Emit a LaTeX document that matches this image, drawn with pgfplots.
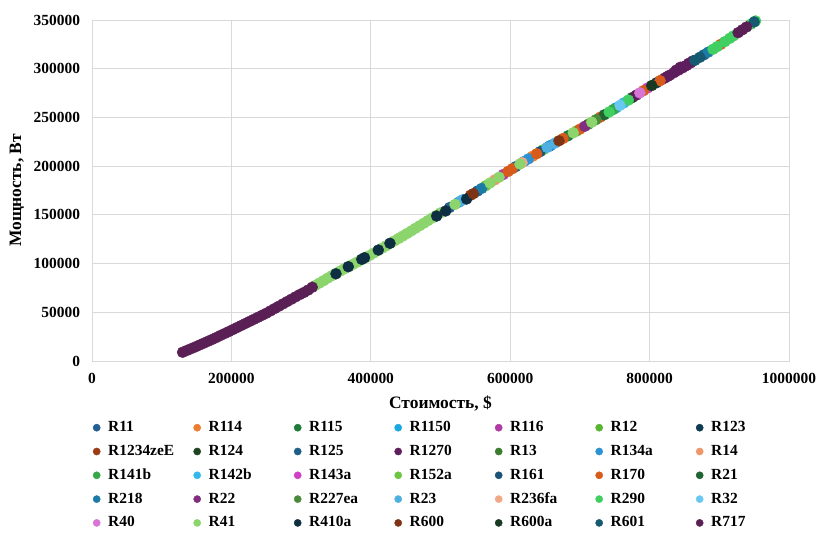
\documentclass[border=0pt]{standalone}
\usepackage{pgfplots}
\pgfplotsset{compat=1.18}
\usepackage{fontspec}
\setmainfont{Liberation Serif}
\definecolor{cR11}{HTML}{255E91}
\definecolor{cR114}{HTML}{ED7D31}
\definecolor{cR115}{HTML}{1E7B3A}
\definecolor{cR1150}{HTML}{1BA8E0}
\definecolor{cR116}{HTML}{B03BA5}
\definecolor{cR12}{HTML}{57B530}
\definecolor{cR123}{HTML}{0E3B51}
\definecolor{cR1234zeE}{HTML}{9C3C14}
\definecolor{cR124}{HTML}{1F4422}
\definecolor{cR125}{HTML}{1F5F87}
\definecolor{cR1270}{HTML}{5E1D5C}
\definecolor{cR13}{HTML}{3A7D2E}
\definecolor{cR134a}{HTML}{2C92D2}
\definecolor{cR14}{HTML}{F0976A}
\definecolor{cR141b}{HTML}{35A84A}
\definecolor{cR142b}{HTML}{33B8EC}
\definecolor{cR143a}{HTML}{D040C6}
\definecolor{cR152a}{HTML}{6CC644}
\definecolor{cR161}{HTML}{1C5378}
\definecolor{cR170}{HTML}{D75B1A}
\definecolor{cR21}{HTML}{1F6432}
\definecolor{cR218}{HTML}{1C7AA6}
\definecolor{cR22}{HTML}{822E7E}
\definecolor{cR227ea}{HTML}{4A8A3A}
\definecolor{cR23}{HTML}{4EB0E0}
\definecolor{cR236fa}{HTML}{F0A886}
\definecolor{cR290}{HTML}{40CF60}
\definecolor{cR32}{HTML}{69C8F0}
\definecolor{cR40}{HTML}{D775D6}
\definecolor{cR41}{HTML}{8CD46C}
\definecolor{cR410a}{HTML}{0E2E42}
\definecolor{cR600}{HTML}{7E3414}
\definecolor{cR600a}{HTML}{183A22}
\definecolor{cR601}{HTML}{155A70}
\definecolor{cR717}{HTML}{5A1F54}
\definecolor{gridc}{HTML}{D9D9D9}
\pgfplotsset{mk/.style={only marks, mark=*, mark size=5.5bp, color=#1,
  legend image code/.code={\draw[##1, mark size=3.6bp] plot coordinates {(0bp,0bp)};}}}
\begin{document}
\begin{tikzpicture}
\useasboundingbox (-92bp,-184bp) rectangle (736bp,361bp);
\begin{axis}[
  scale only axis, width=697bp, height=341bp,
  xmin=0, xmax=1000000, ymin=0, ymax=350000,
  xtick={0,200000,400000,600000,800000,1000000},
  ytick={0,50000,100000,150000,200000,250000,300000,350000},
  scaled ticks=false,
  /pgf/number format/.cd, fixed, set thousands separator={}, assume math mode=true,
  /pgfplots/.cd,
  grid=major, major grid style={gridc, line width=0.8bp},
  axis line style={gridc, line width=0.8bp},
  major tick length=0pt,
  ticklabel style={font=\bfseries\fontsize{15.5}{18}\selectfont},
  xticklabel style={yshift=-9bp},
  yticklabel style={xshift=-8.5bp},
  xlabel={Стоимость, \$}, ylabel={Мощность, Вт},
  every axis x label/.style={at={([yshift=-43bp]axis description cs:0.5,0)}, anchor=center,
    font=\bfseries\fontsize{17.5}{20}\selectfont},
  every axis y label/.style={at={([xshift=-75bp]axis description cs:0,0.5)}, anchor=center, rotate=90,
    font=\bfseries\fontsize{17.5}{20}\selectfont},
  legend columns=7,
  legend style={draw=none, fill=none, inner sep=0pt, outer sep=0pt,
    at={(0,0)}, anchor=north west, xshift=1.1bp, yshift=-57.7bp,
    font=\bfseries\fontsize{15.5}{18}\selectfont,
    nodes={text width=80bp, inner sep=2bp, text height=11bp, text depth=3bp, align=left},
    row sep=5.8bp,
    /tikz/every odd column/.append style={column sep=5.9bp},
    /tikz/every even column/.append style={column sep=3.4bp}},
]
\addplot[mk=cR11] coordinates {(513000,157500) (608000,199500)};
\addlegendentry{R11}
\addplot[mk=cR114] coordinates {(632000,210100) (818000,288900)};
\addlegendentry{R114}
\addplot[mk=cR115] coordinates {(683000,231200)};
\addlegendentry{R115}
\addplot[mk=cR1150] coordinates {(532000,165400) (752000,259900)};
\addlegendentry{R1150}
\addplot[mk=cR116] coordinates {(590000,191400)};
\addlegendentry{R116}
\addplot[mk=cR12] coordinates {(695000,236000)};
\addlegendentry{R12}
\addplot[mk=cR123] coordinates {(656000,220400) (810000,285600)};
\addlegendentry{R123}
\addplot[mk=cR1234zeE] coordinates {(543000,170100)};
\addlegendentry{R1234zeE}
\addplot[mk=cR124] coordinates {(775000,270300)};
\addlegendentry{R124}
\addplot[mk=cR125] coordinates {(553000,174400) (878000,314300)};
\addlegendentry{R125}
\addplot[mk=cR1270] coordinates {(781000,272900) (822000,290500) (826000,292200) (829000,293400) (835000,295900) (838000,298500) (841000,298400) (844000,301500) (847000,300800) (850000,302500) (853000,303300) (856000,305500) (859000,306000) (862000,308000)};
\addlegendentry{R1270}
\addplot[mk=cR13] coordinates {(712000,243000)};
\addlegendentry{R13}
\addplot[mk=cR134a] coordinates {(526000,162900) (620000,204800) (626000,207400) (658000,221200)};
\addlegendentry{R134a}
\addplot[mk=cR14] coordinates {(578000,185900)};
\addlegendentry{R14}
\addplot[mk=cR141b] coordinates {(748000,258200)};
\addlegendentry{R141b}
\addplot[mk=cR142b] coordinates {(763000,264900)};
\addlegendentry{R142b}
\addplot[mk=cR143a] coordinates {(797000,280200)};
\addlegendentry{R143a}
\addplot[mk=cR152a] coordinates {(565000,179900) (647500,216900)};
\addlegendentry{R152a}
\addplot[mk=cR161] coordinates {(643000,214900)};
\addlegendentry{R161}
\addplot[mk=cR170] coordinates {(597000,194600) (603000,197300) (638000,212700) (676000,228400) (700000,238000) (729000,250200) (791000,277400) (815000,287700) (902000,325000)};
\addlegendentry{R170}
\addplot[mk=cR21] coordinates {(735000,252700)};
\addlegendentry{R21}
\addplot[mk=cR218] coordinates {(559000,177100) (884000,317000)};
\addlegendentry{R218}
\addplot[mk=cR22] coordinates {(707000,240900)};
\addlegendentry{R22}
\addplot[mk=cR227ea] coordinates {(723000,247700)};
\addlegendentry{R227ea}
\addplot[mk=cR23] coordinates {(530000,164600) (653000,219200) (664000,223600)};
\addlegendentry{R23}
\addplot[mk=cR236fa] coordinates {(617000,203500)};
\addlegendentry{R236fa}
\addplot[mk=cR290] coordinates {(742000,255600) (769500,267800) (891000,320000) (897000,322700) (908000,327800) (915000,331200) (920000,333600) (945000,345600) (952000,349000)};
\addlegendentry{R290}
\addplot[mk=cR32] coordinates {(757500,262400)};
\addlegendentry{R32}
\addplot[mk=cR40] coordinates {(786000,275200)};
\addlegendentry{R40}
\addplot[mk=cR41] coordinates {(320000,77400) (326000,79900) (332000,82400) (338000,85000) (344000,87500) (350000,90000) (356000,92300) (362000,94600) (368000,96800) (374000,99100) (380000,101400) (386000,103700) (392000,106000) (398000,108200) (404000,110700) (410000,113200) (416000,115700) (422000,118200) (428000,120800) (434000,123300) (440000,125800) (446000,128300) (452000,130900) (458000,133500) (464000,136200) (470000,138800) (476000,141400) (482000,144100) (488000,146700) (494000,149400) (500000,152000) (520800,160700) (571000,182700) (584000,188600) (614000,202200) (690500,234200) (717000,245100)};
\addlegendentry{R41}
\addplot[mk=cR410a] coordinates {(350000,89500) (367700,96800) (387000,104400) (391000,106000) (410800,113900) (427500,120800) (494500,148800) (507400,154000) (537500,166300)};
\addlegendentry{R410a}
\addplot[mk=cR600] coordinates {(547000,171700) (670000,226000)};
\addlegendentry{R600}
\addplot[mk=cR600a] coordinates {(803000,282700)};
\addlegendentry{R600a}
\addplot[mk=cR601] coordinates {(865000,308600) (872000,311700) (950000,348000)};
\addlegendentry{R601}
\addplot[mk=cR717] coordinates {(130000,9000) (136000,10800) (142000,12600) (148000,14400) (154000,16300) (160000,18200) (166000,20100) (172000,22000) (178000,24000) (184000,26100) (190000,28100) (196000,30100) (202000,32200) (208000,34300) (214000,36400) (220000,38500) (226000,40600) (232000,42700) (238000,44800) (244000,46900) (250000,49000) (256000,51400) (262000,53800) (268000,56200) (274000,58600) (280000,61000) (286000,63400) (292000,65800) (298000,68200) (304000,70300) (310000,72800) (316000,75700) (927000,337000) (933000,339900) (939000,342800)};
\addlegendentry{R717}
\end{axis}
\end{tikzpicture}
\end{document}
